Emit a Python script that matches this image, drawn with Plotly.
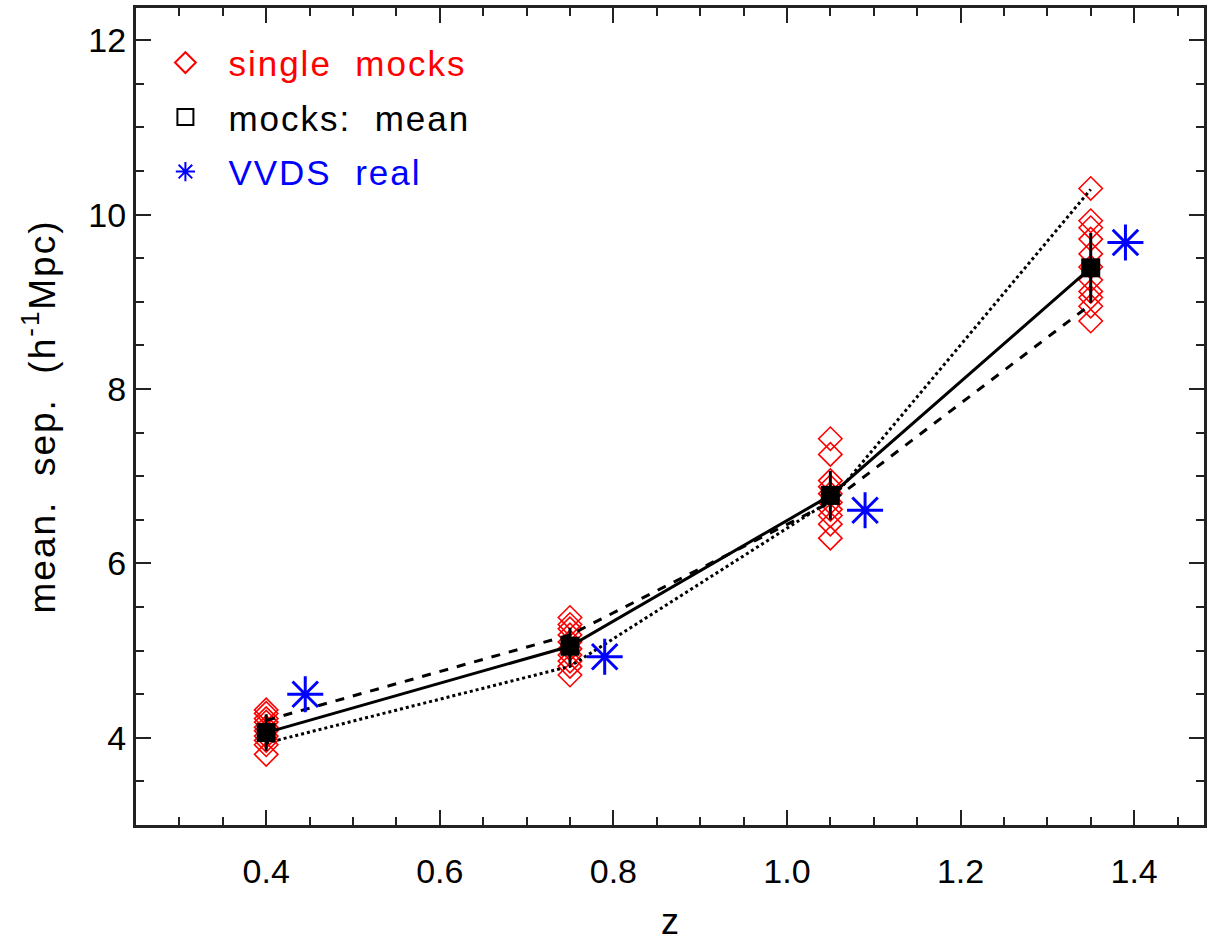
import plotly.graph_objects as go

# ---- data ----
z_bins = [0.4, 0.75, 1.05, 1.35]
mock_values = {
    0.4: [4.32, 4.28, 4.22, 4.18, 4.12, 4.08, 4.02, 3.97, 3.92, 3.81],
    0.75: [5.38, 5.30, 5.25, 5.18, 5.10, 5.02, 4.95, 4.88, 4.82, 4.72],
    1.05: [7.43, 7.25, 6.95, 6.88, 6.80, 6.70, 6.62, 6.55, 6.45, 6.29],
    1.35: [10.30, 9.93, 9.85, 9.72, 9.55, 9.40, 9.25, 9.12, 9.05, 8.95, 8.78],
}
mock_mean = [4.06, 5.05, 6.78, 9.39]
mock_err = [0.21, 0.21, 0.28, 0.40]
dashed_curve = [4.20, 5.18, 6.70, 8.97]
dotted_curve = [3.94, 4.82, 6.72, 10.29]
vvds_z = [0.445, 0.79, 1.09, 1.39]
vvds_sep = [4.50, 4.93, 6.61, 9.68]

x_ticks = [0.4, 0.6, 0.8, 1.0, 1.2, 1.4]
x_tick_text = ["0.4", "0.6", "0.8", "1.0", "1.2", "1.4"]
y_ticks = [4, 6, 8, 10, 12]

RED = "#ff0000"
BLUE = "#0000ff"

fig = go.Figure()

mx, my = [], []
for z in z_bins:
    for v in mock_values[z]:
        mx.append(z)
        my.append(v)

fig.add_trace(go.Scatter(
    x=mx, y=my, mode="markers", showlegend=False,
    marker=dict(symbol="diamond-open", size=18, color=RED, line=dict(width=1.6, color=RED)),
))
fig.add_trace(go.Scatter(
    x=z_bins, y=dashed_curve, mode="lines", showlegend=False,
    line=dict(color="black", width=3, dash="dash"),
))
fig.add_trace(go.Scatter(
    x=z_bins, y=dotted_curve, mode="lines", showlegend=False,
    line=dict(color="black", width=3, dash="dot"),
))
fig.add_trace(go.Scatter(
    x=z_bins, y=mock_mean, mode="lines+markers", showlegend=False,
    line=dict(color="black", width=3),
    marker=dict(symbol="square", size=19, color="black"),
    error_y=dict(type="data", array=mock_err, color="black", thickness=3, width=0),
))
fig.add_trace(go.Scatter(
    x=vvds_z, y=vvds_sep, mode="markers", showlegend=False,
    marker=dict(symbol="asterisk-open", size=30, color=BLUE, line=dict(width=3, color=BLUE)),
))

# legend-only entries
LS = "letter-spacing:2px;"
fig.add_trace(go.Scatter(
    x=[None], y=[None], mode="markers",
    name=f"<span style='color:#ff0000;{LS}'>single  mocks</span>",
    marker=dict(symbol="diamond-open", size=16, color=RED, line=dict(width=2, color=RED)),
    legendgroup="a",
))
fig.add_trace(go.Scatter(
    x=[None], y=[None], mode="markers",
    name=f"<span style='color:#000000;{LS}'>mocks:  mean</span>",
    marker=dict(symbol="square-open", size=16, color="black", line=dict(width=2, color="black")),
    legendgroup="b",
))
fig.add_trace(go.Scatter(
    x=[None], y=[None], mode="markers",
    name=f"<span style='color:#0000ff;{LS}'>VVDS  real</span>",
    marker=dict(symbol="asterisk-open", size=16, color=BLUE, line=dict(width=2, color=BLUE)),
    legendgroup="c",
))

axis_common = dict(
    showline=True, linecolor="#222222", linewidth=3, mirror="ticks",
    ticks="inside", tickcolor="#222222", tickwidth=2, ticklen=15,
    showgrid=False, zeroline=False,
)

fig.update_layout(
    width=1208, height=942,
    margin=dict(l=136, r=1, t=8, b=116),
    paper_bgcolor="white", plot_bgcolor="white",
    font=dict(family="Liberation Sans, Arial, sans-serif", color="black"),
    xaxis=dict(
        range=[0.25, 1.4805], tickvals=x_ticks, ticktext=x_tick_text,
        tickfont=dict(size=34), ticklabelstandoff=14,
        minor=dict(dtick=0.05, ticks="inside", ticklen=8, tickwidth=2, tickcolor="#222222"),
        title=dict(text="z", font=dict(size=36), standoff=26),
        **axis_common,
    ),
    yaxis=dict(
        range=[3, 12.37], tickvals=y_ticks,
        tickfont=dict(size=34),
        minor=dict(dtick=0.5, ticks="inside", ticklen=8, tickwidth=2, tickcolor="#222222"),
        title=dict(text="<span style='letter-spacing:2px'>mean.  sep.  (h<sup>-1</sup>Mpc)</span>",
                   font=dict(size=37), standoff=22),
        **axis_common,
    ),
    legend=dict(
        x=0.006, y=0.969, xanchor="left", yanchor="top",
        bgcolor="rgba(0,0,0,0)", font=dict(size=35),
        tracegroupgap=6, traceorder="grouped", itemwidth=76,
    ),
)

fig.write_html("out.html")
